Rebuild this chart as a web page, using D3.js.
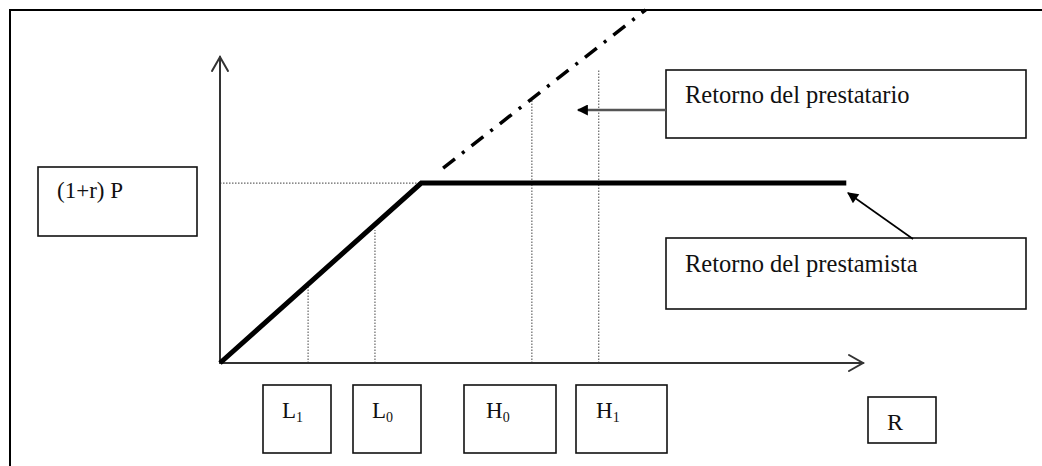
<!DOCTYPE html>
<html>
<head>
<meta charset="utf-8">
<script src="https://cdn.jsdelivr.net/npm/d3@7"></script>
<style>
  body { margin: 0; background: #fff; }
  text { font-family: "Liberation Serif", "Times New Roman", serif; fill: #111; }
</style>
</head>
<body>
<script>
  // conceptual units: R on x (0-100), return on y (0-100)
  const tickNames = ['L', 'L', 'H', 'H'];
  const tickSubs = ['1', '0', '0', '1'];
  const tickX = [13.7, 24.1, 48.5, 58.9];
  const tickTop = [24.8, 43.5, 86, 96];
  const lenderLine = [[0, 0], [31.3, 58.8], [97.4, 58.8]];
  const borrowerLine = [[34.7, 63.7], [66.2, 115.4]];
  const capLevel = 58.8;

  const W = 1042, H = 466;
  const svg = d3.select('body').append('svg').attr('width', W).attr('height', H);
  svg.append('rect').attr('width', W).attr('height', H).attr('fill', '#fff');

  const x = d3.scaleLinear().domain([0, 100]).range([220, 863]);
  const y = d3.scaleLinear().domain([0, 100]).range([363, 57]);

  // outer frame (runs off the right / bottom edge)
  svg.append('rect').attr('x', 10).attr('y', 10).attr('width', 1100).attr('height', 500)
    .attr('fill', 'none').attr('stroke', '#000').attr('stroke-width', 2);

  const defs = svg.append('defs');
  defs.append('marker').attr('id', 'tri').attr('viewBox', '0 0 10 10')
    .attr('refX', 9).attr('refY', 5).attr('markerUnits', 'userSpaceOnUse')
    .attr('markerWidth', 14).attr('markerHeight', 11).attr('orient', 'auto')
    .append('path').attr('d', 'M0,0L10,5L0,10Z').attr('fill', '#000');

  // dotted guides
  const guides = svg.append('g').attr('stroke', '#666').attr('stroke-width', 1.2)
    .attr('stroke-dasharray', '1.5,1.5').attr('fill', 'none');
  guides.append('line').attr('x1', x(0)).attr('x2', x(lenderLine[1][0]))
    .attr('y1', y(capLevel)).attr('y2', y(capLevel));
  guides.selectAll('.v').data(tickX).enter().append('line').attr('class', 'v')
    .attr('x1', d => x(d)).attr('x2', d => x(d))
    .attr('y1', y(0)).attr('y2', (d, i) => y(tickTop[i]));

  // axes with open arrowheads
  const axes = svg.append('g').attr('stroke', '#333').attr('stroke-width', 2)
    .attr('fill', 'none').attr('stroke-linecap', 'round');
  axes.append('line').attr('x1', x(0)).attr('y1', y(0)).attr('x2', x(0)).attr('y2', y(100));
  axes.append('line').attr('x1', x(0)).attr('y1', y(0)).attr('x2', x(100)).attr('y2', y(0));
  axes.append('path').attr('d', `M${x(0) - 8},${y(100) + 14}L${x(0)},${y(100)}L${x(0) + 8},${y(100) + 14}`);
  axes.append('path').attr('d', `M${x(100) - 14},${y(0) - 8}L${x(100)},${y(0)}L${x(100) - 14},${y(0) + 8}`);

  const line = d3.line().x(d => x(d[0])).y(d => y(d[1]));

  svg.append('path').datum(borrowerLine).attr('d', line).attr('fill', 'none')
    .attr('stroke', '#000').attr('stroke-width', 3.5)
    .attr('stroke-dasharray', '15,9,3,9');

  svg.append('path').datum(lenderLine).attr('d', line).attr('fill', 'none')
    .attr('stroke', '#000').attr('stroke-width', 5).attr('stroke-linejoin', 'miter');

  // label boxes
  const boxes = [
    { x: 38, y: 167, w: 159, h: 69 },
    { x: 666, y: 70, w: 360, h: 68 },
    { x: 666, y: 238, w: 360, h: 71 },
    { x: 263, y: 385, w: 68, h: 68 },
    { x: 353, y: 385, w: 68, h: 68 },
    { x: 464, y: 385, w: 92, h: 68 },
    { x: 576, y: 385, w: 91, h: 68 },
    { x: 868, y: 397, w: 68, h: 46 }
  ];
  svg.append('g').selectAll('rect').data(boxes).enter().append('rect')
    .attr('x', d => d.x).attr('y', d => d.y).attr('width', d => d.w).attr('height', d => d.h)
    .attr('fill', '#fff').attr('stroke', '#111').attr('stroke-width', 1.6);

  svg.append('text').attr('x', 57).attr('y', 198).attr('font-size', 23).text('(1+r) P');
  svg.append('text').attr('x', 685).attr('y', 103).attr('font-size', 24.5).text('Retorno del prestatario');
  svg.append('text').attr('x', 685).attr('y', 272).attr('font-size', 24.5).text('Retorno del prestamista');
  svg.append('text').attr('x', 887).attr('y', 430).attr('font-size', 24).text('R');

  const tickBoxX = [282, 372, 486, 596];
  tickNames.forEach((n, i) => {
    const t = svg.append('text').attr('x', tickBoxX[i]).attr('y', 418).attr('font-size', 23);
    t.append('tspan').text(n);
    t.append('tspan').attr('font-size', 14).attr('dy', 4).text(tickSubs[i]);
  });

  // pointer arrows
  svg.append('line').attr('x1', 666).attr('y1', 110).attr('x2', 578).attr('y2', 110)
    .attr('stroke', '#555').attr('stroke-width', 2.5).attr('marker-end', 'url(#tri)');
  svg.append('line').attr('x1', 913).attr('y1', 239).attr('x2', 848).attr('y2', 193)
    .attr('stroke', '#000').attr('stroke-width', 1.6).attr('marker-end', 'url(#tri)');
</script>
</body>
</html>
